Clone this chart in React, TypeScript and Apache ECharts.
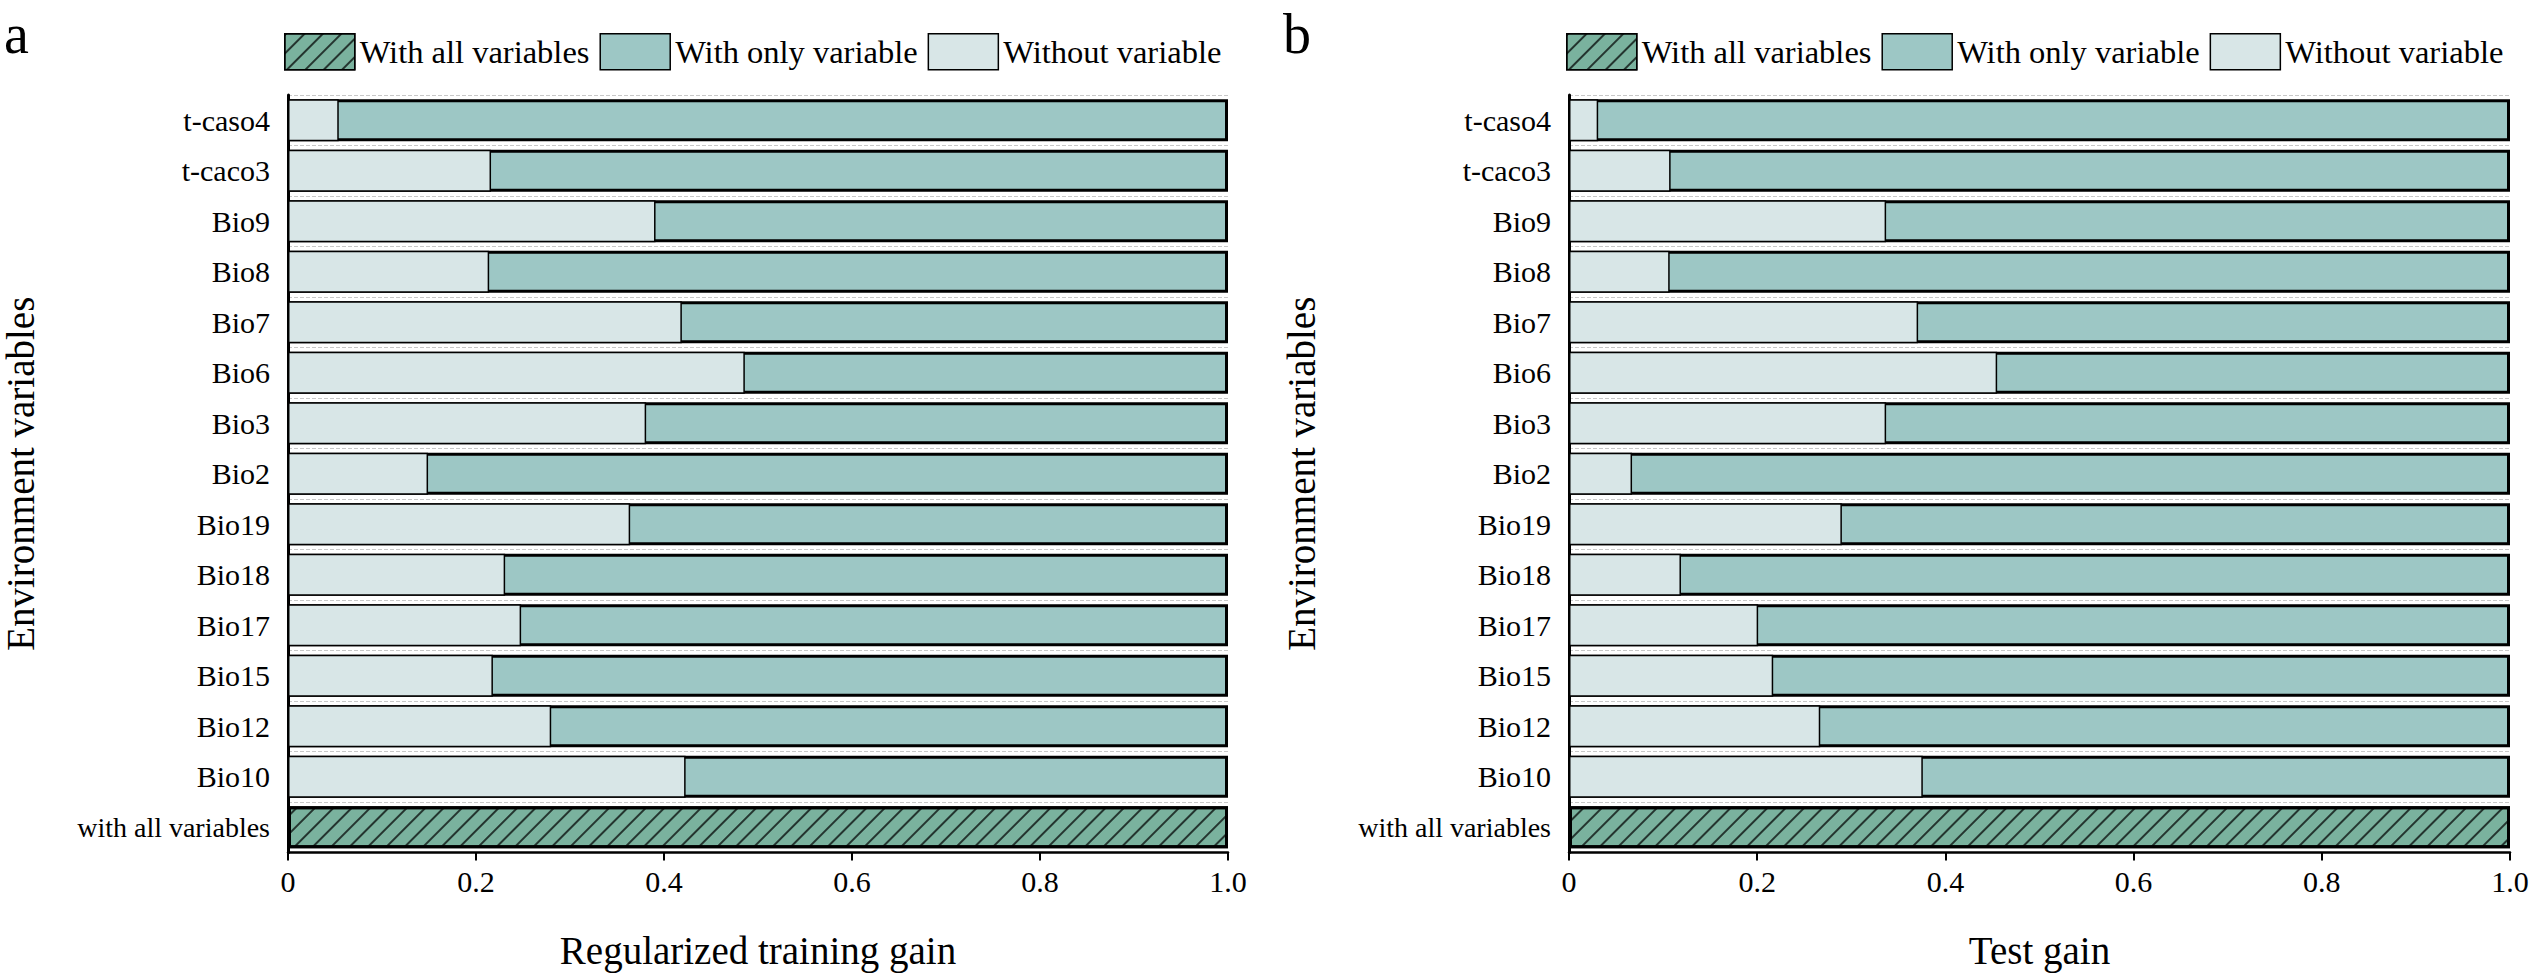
import React, { useEffect, useRef } from "react";
import * as echarts from "echarts";

const categories = [
  "with all variables",
  "Bio10",
  "Bio12",
  "Bio15",
  "Bio17",
  "Bio18",
  "Bio19",
  "Bio2",
  "Bio3",
  "Bio6",
  "Bio7",
  "Bio8",
  "Bio9",
  "t-caco3",
  "t-caso4",
];

// "Without variable" gain (fraction of "with all variables"), bottom to top, '-' for the all-variables row
const trainWithout = ["-", 0.423, 0.28, 0.218, 0.248, 0.231, 0.364, 0.149, 0.381, 0.486, 0.419, 0.214, 0.391, 0.216, 0.054];
const testWithout = ["-", 0.376, 0.267, 0.217, 0.201, 0.119, 0.29, 0.067, 0.337, 0.455, 0.371, 0.107, 0.337, 0.108, 0.031];
// "With only variable" and "With all variables" (relative scale)
const onlyVar = ["-", 1, 1, 1, 1, 1, 1, 1, 1, 1, 1, 1, 1, 1, 1];
const allVars = [1, "-", "-", "-", "-", "-", "-", "-", "-", "-", "-", "-", "-", "-", "-"];

const xTitles = ["Regularized training gain", "Test gain"];
const panelLetters = ["a", "b"];

const FONT = "'Liberation Serif', 'Times New Roman', serif";
const C_ALL = "#7ab29e";
const C_ONLY = "#9dc7c5";
const C_WITHOUT = "#d8e6e7";

export default function App() {
  const ref = useRef<HTMLDivElement>(null);
  useEffect(() => {
    if (!ref.current) return;
    const chart = echarts.init(ref.current, null, { renderer: "svg" });
    const grids = [
      { left: 287, right: 1305, top: 95, bottom: 124.5 },
      { left: 1569, right: 23, top: 95, bottom: 124.5 },
    ];
    const xAxes = [0, 1].map((i) => ({
      type: "value",
      gridIndex: i,
      min: 0,
      max: 1,
      interval: 0.2,
      name: xTitles[i],
      nameLocation: "middle",
      nameGap: 78,
      nameTextStyle: { fontFamily: FONT, fontSize: 39, color: "#000" },
      axisLine: { show: true, lineStyle: { color: "#000", width: 2.5 } },
      axisTick: { show: true, length: 8, lineStyle: { color: "#000", width: 2 } },
      axisLabel: {
        fontFamily: FONT,
        fontSize: 30,
        color: "#000",
        margin: 14,
        formatter: (v: number) => (v === 0 ? "0" : v.toFixed(1)),
      },
      splitLine: { show: false },
    }));
    const yAxes = [0, 1].map((i) => ({
      type: "category",
      gridIndex: i,
      data: categories,
      name: "Environment variables",
      nameLocation: "middle",
      nameGap: 248,
      nameTextStyle: { fontFamily: FONT, fontSize: 39, color: "#000" },
      axisLine: { show: true, lineStyle: { color: "#000", width: 3 } },
      axisTick: { show: false },
      axisLabel: {
        fontFamily: FONT,
        fontSize: 30,
        color: "#000",
        margin: 18,
        formatter: (v: string) => (v === categories[0] ? "{s|" + v + "}" : v),
        rich: { s: { fontFamily: FONT, fontSize: 28, color: "#000" } },
      },
      splitLine: { show: true, lineStyle: { color: "#c8c8c8", type: "dashed", width: 1 } },
    }));
    const series: any[] = [];
    [trainWithout, testWithout].forEach((without, i) => {
      series.push({
        name: "With only variable",
        type: "bar",
        xAxisIndex: i,
        yAxisIndex: i,
        data: onlyVar,
        barWidth: 42,
        barGap: "-100%",
        itemStyle: { color: C_ONLY, borderColor: "#000", borderWidth: 3 },
      });
      series.push({
        name: "Without variable",
        type: "bar",
        xAxisIndex: i,
        yAxisIndex: i,
        data: without,
        barWidth: 42,
        barGap: "-100%",
        itemStyle: { color: C_WITHOUT, borderColor: "#000", borderWidth: 1.5 },
      });
      series.push({
        name: "With all variables",
        type: "bar",
        xAxisIndex: i,
        yAxisIndex: i,
        data: allVars,
        barWidth: 42,
        barGap: "-100%",
        itemStyle: {
          color: C_ALL,
          borderColor: "#000",
          borderWidth: 3,
          decal: {
            symbol: "rect",
            symbolSize: 1,
            color: "rgba(0,0,0,0.7)",
            dashArrayX: [1, 0],
            dashArrayY: [1.2, 11],
            rotation: -Math.PI / 4,
          },
        },
      });
    });
    const legendBase = {
      orient: "horizontal",
      top: 33,
      padding: 0,
      itemWidth: 70,
      itemHeight: 36,
      itemGap: 10,
      icon: "rect",
      selectedMode: false,
      data: ["With all variables", "With only variable", "Without variable"],
      textStyle: { fontFamily: FONT, fontSize: 32.5, color: "#000" },
      itemStyle: { borderColor: "#000", borderWidth: 1.5 },
    };
    const letterStyle = { fontFamily: FONT, fontSize: 56, fontWeight: "normal", color: "#000" };
    chart.setOption({
      animation: false,
      backgroundColor: "#fff",
      title: [
        { text: panelLetters[0], left: 4, top: 6, padding: 0, textStyle: letterStyle },
        { text: panelLetters[1], left: 1283, top: 6, padding: 0, textStyle: letterStyle },
      ],
      legend: [
        { ...legendBase, left: 284 },
        { ...legendBase, left: 1566 },
      ],
      grid: grids,
      xAxis: xAxes,
      yAxis: yAxes,
      series,
    });
    return () => chart.dispose();
  }, []);
  return (
    <div
      ref={ref}
      style={{ position: "absolute", left: 0, top: 0, width: 2533, height: 977 }}
    />
  );
}
